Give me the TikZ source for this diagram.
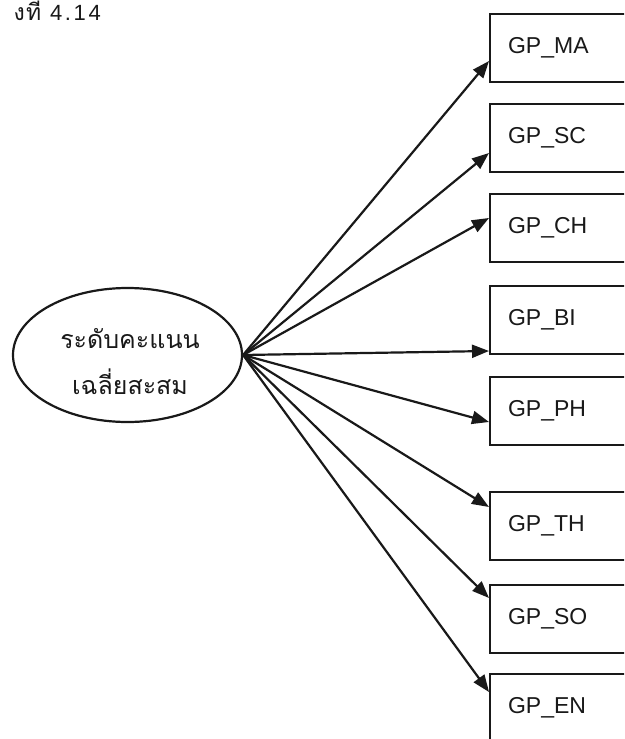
\documentclass[tikz,border=0pt]{standalone}
\usepackage{fontspec}
\setmainfont{Liberation Sans}
\newfontfamily\thaifont[Script=Thai]{Loma}
\newfontfamily\titlefont[LetterSpace=12]{Liberation Sans}
\newfontfamily\titlethai[Script=Thai,LetterSpace=6]{Loma}
\usetikzlibrary{arrows.meta,shapes.geometric}
\begin{document}
\begin{tikzpicture}[x=1pt,y=-1pt,
  ink/.style={draw=black!90},
  gpbox/.style={ink, line width=2.2pt, rectangle, anchor=north west,
    minimum height=68pt, text width=120pt, inner xsep=18pt, align=left,
    font=\fontsize{23}{26}\selectfont, text=black!90},
  conn/.style={ink, line width=2.2pt, -{Triangle[length=17pt,width=13pt]}}]
\useasboundingbox (0,0) rectangle (624,739);
\clip (0,0) rectangle (624,739);
\fill[white] (0,0) rectangle (624,739);
% title
\node[anchor=base east, inner sep=0pt, font=\titlefont\fontsize{22}{26}\selectfont, text=black!90] (title) at (101,20) {{\titlethai\fontsize{23}{26}\selectfont งที่} 4.14};
% ellipse
\node[ink, line width=2.2pt, ellipse, minimum width=229pt, minimum height=134pt, inner sep=0pt] (e) at (127.5,355) {};
\node[align=center, inner sep=0pt, font=\thaifont\fontsize{25}{46}\selectfont, text=black!90] (et) at (130,362) {ระดับคะแนน\\เฉลี่ยสะสม};
% boxes
\node[gpbox] (ma) at (489,13)  {GP\_MA};
\node[gpbox] (sc) at (489,103) {GP\_SC};
\node[gpbox] (ch) at (489,193) {GP\_CH};
\node[gpbox] (bi) at (489,285) {GP\_BI};
\node[gpbox] (ph) at (489,376) {GP\_PH};
\node[gpbox] (th) at (489,491) {GP\_TH};
\node[gpbox] (so) at (489,584) {GP\_SO};
\node[gpbox] (en) at (489,673) {GP\_EN};
% connectors
\draw[conn] (e.east) -- ([yshift=-48pt]ma.north west);
\draw[conn] (e.east) -- ([yshift=-50pt]sc.north west);
\draw[conn] (e.east) -- ([yshift=-25pt]ch.north west);
\draw[conn] (e.east) -- ([yshift=-66pt]bi.north west);
\draw[conn] (e.east) -- ([yshift=-46pt]ph.north west);
\draw[conn] (e.east) -- ([yshift=-16pt]th.north west);
\draw[conn] (e.east) -- ([yshift=-14pt]so.north west);
\draw[conn] (e.east) -- ([yshift=-19pt]en.north west);
\end{tikzpicture}
\end{document}
